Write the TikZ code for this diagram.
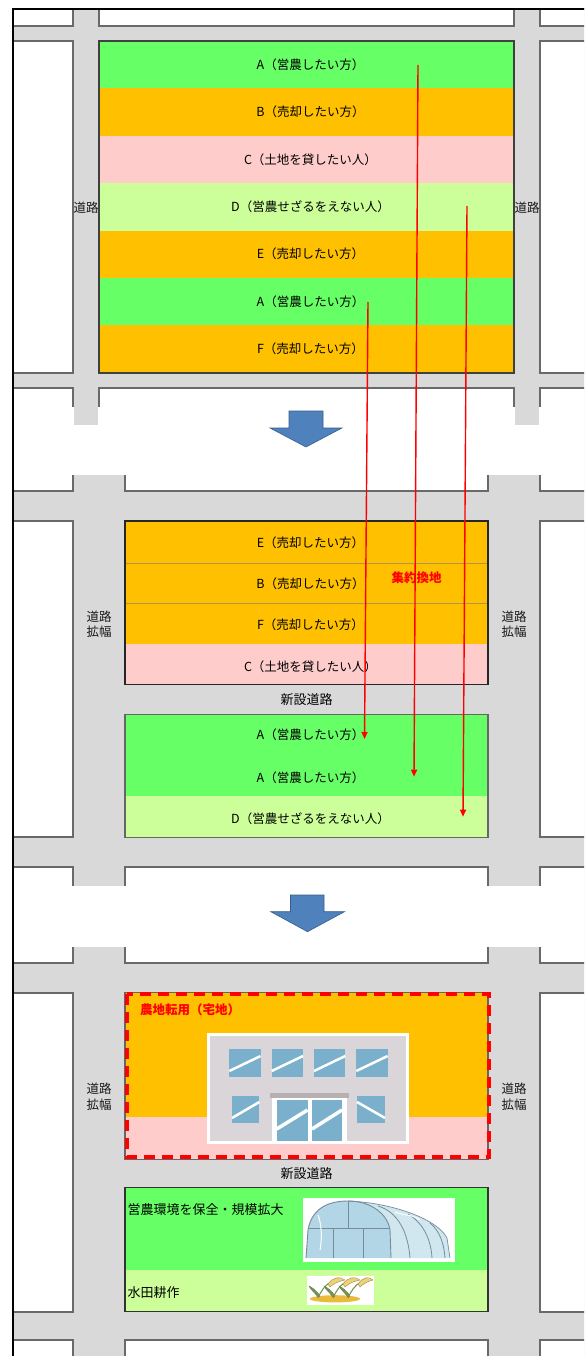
\documentclass[tikz,border=0pt]{standalone}
\usepackage{fontspec}
\setmainfont{Noto Sans CJK JP}
\usepackage{tikz}
\usetikzlibrary{arrows.meta}

\definecolor{road}{RGB}{217,217,217}
\definecolor{kerb}{RGB}{105,105,105}
\definecolor{farm}{RGB}{102,255,102}
\definecolor{sell}{RGB}{255,192,0}
\definecolor{lend}{RGB}{255,204,204}
\definecolor{keep}{RGB}{204,255,153}
\definecolor{seam}{RGB}{175,150,80}
\definecolor{stepblue}{RGB}{79,129,189}
\definecolor{stepline}{RGB}{56,93,138}
\definecolor{glass}{RGB}{122,176,204}
\definecolor{wall}{RGB}{217,213,216}
\definecolor{canopy}{RGB}{182,176,179}
\definecolor{film}{RGB}{178,214,230}
\definecolor{pipe}{RGB}{118,140,152}
\definecolor{ear}{RGB}{232,196,70}
\definecolor{husk}{RGB}{160,135,80}
\definecolor{leaf}{RGB}{120,150,80}

\tikzset{
	block/.style={fill=white, draw=kerb, line width=1.3pt},
	lot/.style={font=\fontsize{12.5}{14}\selectfont, text=black, inner sep=0pt},
	roadname/.style={text=black!90, align=center, inner sep=0pt},
	redname/.style={font=\bfseries\fontsize{12.5}{14}\selectfont, text=red, inner sep=0pt},
	useline/.style={font=\fontsize{13}{15}\selectfont, text=black, inner sep=0pt, anchor=west},
	move/.style={red, line width=1.4pt, -{Triangle[width=6pt,length=7pt]}},
	downstep/.style={fill=stepblue, draw=stepline, line width=0.6pt},
	pane/.style={fill=glass},
	glint/.style={white, line width=2.5pt},
	grain/.style={fill=ear!75!white, draw=husk, line width=0.4pt},
	blade/.style={fill=leaf, draw=leaf!70!black, line width=0.3pt}
}

\begin{document}
\begin{tikzpicture}[x=1pt, y=-1pt]
	\useasboundingbox (0,0) rectangle (584,1356);
	\clip (0,0) rectangle (584,1356);
	\fill[road] (13,9) rectangle (590,1360);

	\draw[block] (13,9) rectangle (73,26);
	\draw[block] (99,9) rectangle (514,26);
	\draw[block] (540,9) rectangle (590,26);
	\draw[block] (13,41) rectangle (73,373);
	\draw[block] (540,41) rectangle (590,373);
	\draw[block] (13,388) rectangle (73,491);
	\draw[block] (99,388) rectangle (514,440);
	\draw[block] (540,388) rectangle (590,491);
	\draw[block] (125,460) rectangle (488,491);
	\draw[block] (13,521) rectangle (73,837);
	\draw[block] (540,521) rectangle (590,837);
	\draw[block] (13,867) rectangle (73,963);
	\draw[block] (125,867) rectangle (488,963);
	\draw[block] (540,867) rectangle (590,963);
	\draw[block] (13,993) rectangle (73,1312);
	\draw[block] (540,993) rectangle (590,1312);
	\draw[block] (13,1340) rectangle (73,1365);
	\draw[block] (125,1340) rectangle (488,1365);
	\draw[block] (540,1340) rectangle (590,1365);

	\fill[white] (14,407) rectangle (590,475);
	\fill[road] (73.7,406) rectangle (98.3,425);
	\fill[road] (514.7,406) rectangle (539.3,425);
	\fill[white] (14,886) rectangle (590,946.7);
	\draw[line width=1.3pt] (13,1360) -- (13,9) -- (590,9);

	\fill[farm] (99,41) rectangle (514,88.4);
	\fill[sell] (99,88.4) rectangle (514,135.8);
	\fill[lend] (99,135.8) rectangle (514,183.2);
	\fill[keep] (99,183.2) rectangle (514,230.6);
	\fill[sell] (99,230.6) rectangle (514,278);
	\fill[farm] (99,278) rectangle (514,325.4);
	\fill[sell] (99,325.4) rectangle (514,373);
	\draw[line width=1.3pt, black!75] (99,41) rectangle (514,373);

	\node[lot] (a1) at (310.5,64.7) {A（営農したい方）};
	\node[lot] (b1) at (310.5,112) {B（売却したい方）};
	\node[lot] (c1) at (310.5,159.3) {C（土地を貸したい人）};
	\node[lot] (d1) at (310.5,206.7) {D（営農せざるをえない人）};
	\node[lot] (e1) at (310.5,254) {E（売却したい方）};
	\node[lot] (a2) at (310.5,301.3) {A（営農したい方）};
	\node[lot] (f1) at (310.5,349) {F（売却したい方）};
	\node[roadname, font=\fontsize{12.5}{15}\selectfont] (road1l) at (86,208) {道路};
	\node[roadname, font=\fontsize{12.5}{15}\selectfont] (road1r) at (527,208) {道路};

	\filldraw[downstep] (289,411) -- (323,411) -- (323,428) -- (342,428) -- (306,447) -- (270,428) -- (289,428) -- cycle;

	\fill[sell] (125,521) rectangle (488,644);
	\fill[lend] (125,644) rectangle (488,684.3);
	\draw[seam] (125,562.7) -- (488,562.7) (125,603.3) -- (488,603.3);
	\draw[line width=1.3pt, black!85] (125,521) rectangle (488,684.3);
	\fill[farm] (125,714.3) rectangle (488,796);
	\fill[keep] (125,796) rectangle (488,837.3);
	\draw[line width=1.3pt, black!60] (125,714.3) rectangle (488,837.3);

	\node[lot] (e2) at (310.5,542.7) {E（売却したい方）};
	\node[lot] (b2) at (310.5,583.3) {B（売却したい方）};
	\node[lot] (f2) at (310.5,625) {F（売却したい方）};
	\node[lot] (c2) at (310.5,666.7) {C（土地を貸したい人）};
	\node[lot] (a3) at (310.5,735) {A（営農したい方）};
	\node[lot] (a4) at (310.5,777.3) {A（営農したい方）};
	\node[lot] (d2) at (310.5,818.3) {D（営農せざるをえない人）};
	\node[lot, font=\fontsize{13}{15}\selectfont] (newroad2) at (306.5,699.3) {新設道路};
	\node[redname] (merge) at (416.6,577.7) {集約換地};
	\node[roadname, font=\fontsize{12.5}{15}\selectfont] (road2l) at (99,624.2) {道路\\拡幅};
	\node[roadname, font=\fontsize{12.5}{15}\selectfont] (road2r) at (514,624.2) {道路\\拡幅};

	\filldraw[downstep] (290.5,895) -- (324,895) -- (324,911.7) -- (344.5,911.7) -- (307.5,931.7) -- (270.8,911.7) -- (290.5,911.7) -- cycle;

	\fill[sell] (125,992.7) rectangle (488,1116.7);
	\fill[lend] (125,1116.7) rectangle (488,1159.3);
	\draw[line width=1.3pt, black!60] (125,992.7) rectangle (488,1159.3);

	\fill[white] (206.7,1032.7) rectangle (409.3,1144.3);
	\fill[wall] (210.2,1036.2) rectangle (405.8,1140.8);
	\fill[pane] (229.3,1049) rectangle (260.6,1076.7);
	\fill[pane] (271.7,1049) rectangle (303,1076.7);
	\fill[pane] (314,1049) rectangle (345.3,1076.7);
	\fill[pane] (356.3,1049) rectangle (387.6,1076.7);
	\draw[glint] (229.3,1071) -- (260.6,1056);
	\draw[glint] (271.7,1071) -- (303,1056);
	\draw[glint] (314,1071) -- (345.3,1056);
	\draw[glint] (356.3,1071) -- (387.6,1056);
	\fill[pane] (232,1096) rectangle (259.3,1123.3);
	\fill[pane] (357,1096) rectangle (385,1123.3);
	\draw[glint] (232,1118) -- (259.3,1102);
	\draw[glint] (357,1102) -- (385,1118);
	\fill[white] (271.7,1097) rectangle (346.7,1142);
	\fill[pane] (276.7,1099.5) rectangle (307.5,1141);
	\fill[pane] (312,1099.5) rectangle (342,1141);
	\draw[glint, line width=3.5pt] (276.7,1129) -- (307.5,1110);
	\draw[glint, line width=3.5pt] (312,1129) -- (342,1110);
	\fill[canopy] (270,1092.7) rectangle (349.3,1098.3);

	\draw[red, line width=4pt, dash pattern=on 11pt off 7pt] (127,993.7) rectangle (488.7,1157);
	\node[redname, anchor=west] (convert) at (140,1010) {農地転用（宅地）};
	\node[lot, font=\fontsize{13}{15}\selectfont] (newroad3) at (306.5,1173.3) {新設道路};
	\node[roadname, font=\fontsize{12.5}{16.7}\selectfont] (road3l) at (99,1096.7) {道路\\拡幅};
	\node[roadname, font=\fontsize{12.5}{16.7}\selectfont] (road3r) at (514,1096.7) {道路\\拡幅};

	\fill[farm] (125,1187.7) rectangle (488,1270);
	\fill[keep] (125,1270) rectangle (488,1311.7);
	\draw[line width=1.3pt, black!80] (125,1187.7) rectangle (488,1311.7);
	\node[useline] (scale) at (127.5,1209.3) {営農環境を保全・規模拡大};
	\node[useline] (paddy) at (127.5,1292.3) {水田耕作};

	\fill[white] (302.7,1198.3) rectangle (455,1261.5);
	\fill[film!60!white] (348,1201) .. controls (395,1203) and (438,1220) .. (447,1238) -- (450,1258) -- (391,1258) -- (390,1230) .. controls (388,1215) and (372,1201) .. (348,1201);
	\fill[film] (306,1258) -- (308,1230) .. controls (312,1207) and (330,1201) .. (348,1201) .. controls (372,1201) and (388,1215) .. (390,1230) -- (391,1258) -- cycle;
	\draw[pipe, line width=0.9pt] (306,1258) -- (308,1230) .. controls (312,1207) and (330,1201) .. (348,1201) .. controls (372,1201) and (388,1215) .. (390,1230) -- (391,1258);
	\draw[pipe, line width=0.9pt] (309,1228.5) -- (390,1228.5) (333,1228.5) -- (333,1258) (363,1228.5) -- (363,1258) (348,1201) -- (348,1228.5);
	\draw[pipe, line width=0.7pt] (348,1201) .. controls (395,1203) and (438,1220) .. (447,1238) -- (450,1258);
	\draw[pipe, line width=0.8pt] (378,1206) .. controls (398,1212) and (408,1232) .. (410,1258);
	\draw[pipe, line width=0.8pt] (408,1214) .. controls (422,1222) and (431,1238) .. (432,1258);
	\draw[pipe, line width=0.8pt] (430,1223) .. controls (440,1231) and (444,1244) .. (445,1258);
	\draw[white, line width=1pt] (318,1215) .. controls (322,1225) and (322,1240) .. (320,1250);
	\draw[white, line width=1pt] (395,1212) .. controls (405,1216) and (412,1214) .. (420,1220);

	\fill[white] (307.3,1276) rectangle (374,1305.3);
	\fill[ear!85!orange] (335,1298.8) ellipse [x radius=25pt, y radius=3.6pt];
	\fill[blade] (318,1297) .. controls (314,1292) and (311,1290) .. (309,1286) .. controls (313,1288) and (317,1291) .. (320,1296) -- cycle;
	\fill[blade] (333,1297) .. controls (329,1292) and (326,1290) .. (324,1286) .. controls (328,1288) and (332,1291) .. (335,1296) -- cycle;
	\fill[blade] (348,1297) .. controls (344,1292) and (341,1290) .. (339,1286) .. controls (343,1288) and (347,1291) .. (350,1296) -- cycle;
	\draw[leaf, line width=1.1pt] (318,1298) .. controls (321,1291) and (325,1285) .. (331,1282);
	\draw[leaf, line width=1.1pt] (333,1298) .. controls (336,1291) and (340,1285) .. (346,1282);
	\draw[leaf, line width=1.1pt] (348,1298) .. controls (351,1291) and (355,1285) .. (361,1282);
	\filldraw[grain] (328,1284) .. controls (333,1277) and (340,1276) .. (345,1280) .. controls (340,1281) and (334,1283) .. (330,1287) -- cycle;
	\filldraw[grain] (343,1284) .. controls (348,1277) and (355,1276) .. (360,1280) .. controls (355,1281) and (349,1283) .. (345,1287) -- cycle;
	\filldraw[grain] (358,1284) .. controls (363,1277) and (369,1276) .. (373,1280) .. controls (369,1281) and (364,1283) .. (360,1287) -- cycle;

	\coordinate (from1) at (418,65);
	\coordinate (to1) at (414,776.7);
	\coordinate (from2) at (467,206);
	\coordinate (to2) at (463,816.7);
	\coordinate (from3) at (368,302);
	\coordinate (to3) at (364.5,739);
	\draw[move] (from1) -- (to1);
	\draw[move] (from2) -- (to2);
	\draw[move] (from3) -- (to3);
\end{tikzpicture}
\end{document}
